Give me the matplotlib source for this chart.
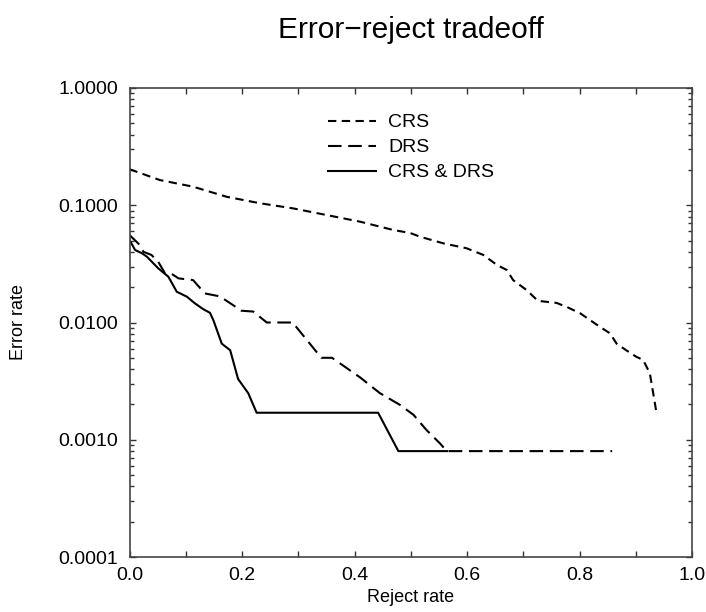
import matplotlib
matplotlib.use("Agg")
import matplotlib.pyplot as plt
from matplotlib.ticker import FixedLocator, LogLocator, NullFormatter, FixedFormatter

plt.rcParams['font.family'] = ['Liberation Sans', 'DejaVu Sans']

title = "Error\u2212reject tradeoff"
xlabel = "Reject rate"
ylabel = "Error rate"

crs_x = [0.0, 0.054, 0.113, 0.173, 0.232, 0.291, 0.35, 0.41, 0.469, 0.499, 0.516,
         0.558, 0.599, 0.629, 0.653, 0.671, 0.682, 0.706, 0.726, 0.759, 0.777, 0.801,
         0.836, 0.854, 0.866, 0.883, 0.901, 0.913, 0.925, 0.931, 0.937]
crs_y = [0.203, 0.164, 0.144, 0.118, 0.104, 0.094, 0.0826, 0.0724, 0.0615, 0.058, 0.054,
         0.0473, 0.043, 0.0377, 0.031, 0.028, 0.023, 0.0189, 0.0153, 0.0147, 0.0136, 0.012,
         0.0092, 0.0081, 0.0066, 0.0058, 0.0051, 0.0048, 0.0037, 0.0025, 0.00168]

drs_x = [0.0, 0.016, 0.025, 0.039, 0.051, 0.063, 0.075, 0.087, 0.113, 0.134, 0.158,
         0.17, 0.199, 0.22, 0.244, 0.29, 0.341, 0.36, 0.41, 0.445, 0.481, 0.505, 0.528,
         0.552, 0.564, 0.858]
drs_y = [0.0557, 0.047, 0.040, 0.0377, 0.033, 0.0263, 0.026, 0.0238, 0.023, 0.0177, 0.0168,
         0.0156, 0.0126, 0.0124, 0.010, 0.010, 0.005, 0.005, 0.0034, 0.0025, 0.00198, 0.00163,
         0.00121, 0.00093, 0.0008, 0.0008]

both_x = [0.0, 0.01, 0.022, 0.031, 0.051, 0.069, 0.084, 0.102, 0.116, 0.131, 0.143, 0.149,
          0.164, 0.179, 0.193, 0.211, 0.226, 0.442, 0.478, 0.565]
both_y = [0.0506, 0.0415, 0.039, 0.0364, 0.029, 0.0246, 0.0183, 0.0166, 0.0146, 0.013, 0.0121,
          0.0105, 0.0066, 0.0058, 0.0033, 0.0025, 0.0017, 0.0017, 0.0008, 0.0008]

series_labels = ["CRS", "DRS", "CRS & DRS"]

xticks = [0.0, 0.1, 0.2, 0.3, 0.4, 0.5, 0.6, 0.7, 0.8, 0.9, 1.0]
xticklabels = ["0.0", "", "0.2", "", "0.4", "", "0.6", "", "0.8", "", "1.0"]
yticks = [0.0001, 0.001, 0.01, 0.1, 1.0]
yticklabels = ["0.0001", "0.0010", "0.0100", "0.1000", "1.0000"]

W, H = 706, 612
fig = plt.figure(figsize=(W / 100, H / 100), dpi=100)
ax = fig.add_axes([129.5 / W, 1 - 557 / H, (692 - 129.5) / W, (557 - 88) / H])

lw = 1.5
ax.plot(crs_x, crs_y, color='black', lw=lw, dashes=(4.0, 2.6), label=series_labels[0])
ax.plot(drs_x, drs_y, color='black', lw=lw, dashes=(6.5, 3.2), label=series_labels[1])
ax.plot(both_x, both_y, color='black', lw=lw, label=series_labels[2])

ax.set_yscale('log')
ax.set_xlim(0, 1)
ax.set_ylim(0.0001, 1.0)

ax.xaxis.set_major_locator(FixedLocator(xticks))
ax.xaxis.set_major_formatter(FixedFormatter(xticklabels))
ax.yaxis.set_major_locator(FixedLocator(yticks))
ax.yaxis.set_major_formatter(FixedFormatter(yticklabels))
ax.yaxis.set_minor_locator(LogLocator(base=10, subs=range(2, 10)))
ax.yaxis.set_minor_formatter(NullFormatter())

fs = 14
ax.tick_params(axis='both', which='both', direction='in', top=True, right=True,
               labelsize=fs, color='#333333', width=1.0)
ax.tick_params(axis='x', which='major', length=4.0, pad=7.5)
ax.tick_params(axis='y', which='major', length=4.5, pad=8.0)
ax.tick_params(axis='y', which='minor', length=3.2)
for s in ax.spines.values():
    s.set_linewidth(1.2)
    s.set_color('#444444')

ax.set_xlabel(xlabel, fontsize=13, labelpad=3.5)
ax.set_ylabel(ylabel, fontsize=13, labelpad=23)
fig.text(411 / W, 1 - 30 / H, title, ha='center', va='center', fontsize=21.5)

ax.legend(loc='upper left', bbox_to_anchor=(320 / W, 1 - 106 / H),
          bbox_transform=fig.transFigure, frameon=False, fontsize=fs,
          handlelength=2.5, handletextpad=0.6, labelspacing=0.38, borderaxespad=0)

fig.savefig("out.png", dpi=100)
